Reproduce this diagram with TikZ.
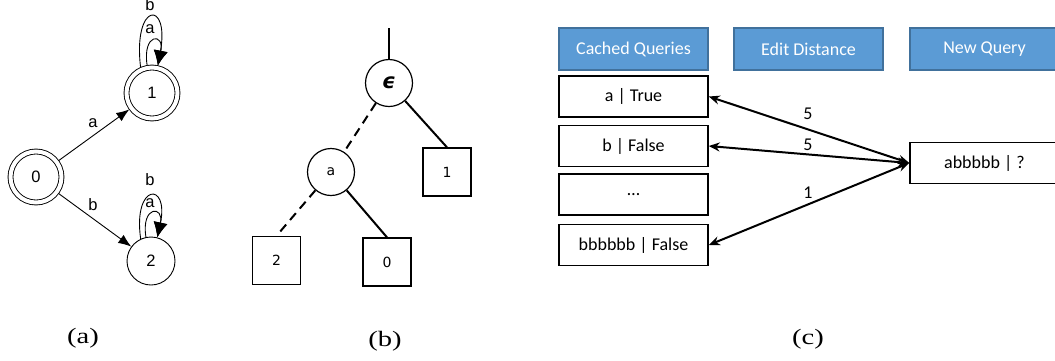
\documentclass[tikz,border=0pt]{standalone}
\usepackage{fontspec}
\usepackage{graphicx}
\setmainfont{Liberation Serif}
\newfontfamily\arialf{Liberation Sans}
\newfontfamily\verdf{DejaVu Sans}
\newfontfamily\calf{Carlito}
\usetikzlibrary{arrows.meta}
\definecolor{hdrfill}{HTML}{5B9BD5}
\definecolor{hdrdraw}{HTML}{41719C}
\begin{document}
\begin{tikzpicture}[x=1pt,y=-1pt,
  fa/.style={font=\arialf\fontsize{16.5}{19}\selectfont},
  stA/.style={circle, draw, line width=0.9pt, minimum size=48pt, inner sep=0pt, fa},
  accA/.style={stA, double, double distance=4pt, minimum size=51pt, outer sep=2.5pt},
  lblA/.style={fa, inner sep=0pt},
  edgeA/.style={line width=0.9pt, -{Latex[length=13pt,width=10pt]}},
  loopA/.style={line width=0.9pt, -{Latex[length=15pt,width=14pt]}},
  fb/.style={font=\verdf\fontsize{14}{16}\selectfont},
  tnode/.style={circle, draw, line width=1.2pt, minimum size=47pt, inner sep=0pt, fb},
  leaf/.style={rectangle, draw, line width=1.3pt, minimum size=48pt, inner sep=0pt, fb},
  solidB/.style={line width=2pt},
  dashB/.style={line width=2pt, dash pattern=on 9pt off 6pt},
  fc/.style={font=\calf\fontsize{18}{21}\selectfont},
  hdr/.style={rectangle, fill=hdrfill, draw=hdrdraw, line width=1.5pt, minimum width=149pt, minimum height=42pt, inner sep=0pt, text=white, fc},
  qbox/.style={rectangle, draw=black, line width=1.5pt, minimum width=149pt, minimum height=41pt, inner sep=0pt, fc},
  dbl/.style={line width=2pt, {Stealth[length=11pt,width=9pt]}-{Stealth[length=11pt,width=9pt]}},
  lblC/.style={fc, inner sep=0pt},
  captxt/.style={font=\fontsize{22}{26}\selectfont, inner sep=0pt}]
\useasboundingbox (0,0) rectangle (1055,360);
\clip (0,0) rectangle (1055,360);

% ---------- (a) ----------
\node[accA] (s0) at (36,177) {0};
\node[accA] (s1) at (152,93) {1};
\node[stA]  (s2) at (151,261) {2};
\draw[edgeA] (s0) -- (s1);
\draw[edgeA] (s0) -- (s2);
\node[lblA] (la01) at (93,123) {a};
\node[lblA] (lb02) at (93,205) {b};
\draw[loopA] (s1.114) .. controls +(-8,-66) and +(12,-66) .. (s1.78);
\draw[loopA] (s1.100) .. controls +(-5,-33) and +(7,-33) .. (s1.78);
\node[lblA] (lb11) at (150,5) {b};
\node[lblA] (la11) at (150,29) {a};
\draw[loopA] (s2.115) .. controls +(-8,-56) and +(12,-56) .. (s2.75);
\draw[loopA] (s2.102) .. controls +(-5,-32) and +(7,-32) .. (s2.75);
\node[lblA] (lb22) at (150,180) {b};
\node[lblA] (la22) at (150,203) {a};
\node[captxt] (capa) at (83,338) {\scalebox{1.3}[1]{(a)}};

% ---------- (b) ----------
\coordinate (root) at (389,28);
\node[tnode] (eps) at (389,83) {\fontsize{21}{23}\selectfont\bfseries\itshape ϵ};
\node[tnode] (na) at (331,172) {a};
\node[leaf] (l1) at (447,172) {1};
\node[leaf] (l2) at (276.5,260.5) {2};
\node[leaf] (l0) at (387,262) {0};
\draw[solidB] (root) -- (eps);
\draw[dashB] (eps) -- (na);
\draw[solidB] (eps) -- (l1.north);
\draw[dashB] (na) -- (l2.north);
\draw[solidB] (na) -- (l0.north);
\node[captxt] (capb) at (385,341) {\scalebox{1.3}[1]{(b)}};

% ---------- (c) ----------
\node[hdr] (h1) at (633.5,49) {Cached Queries};
\node[hdr] (h2) at (808.5,49) {Edit Distance};
\node[hdr] (h3) at (984.5,49) {New Query};
\node[qbox] (q1) at (633.5,96.5) {a | True};
\node[qbox] (q2) at (633.5,146) {b | False};
\node[qbox] (q3) at (633.5,194.5) {…};
\node[qbox] (q4) at (633.5,245) {bbbbbb | False};
\node[qbox] (nq) at (984.5,163) {abbbbb | ?};
\draw[dbl] (nq.west) -- (q1.east);
\draw[dbl] (nq.west) -- (q2.east);
\draw[dbl] (nq.west) -- (q4.east);
\node[lblC] (d1) at (808,114) {5};
\node[lblC] (d2) at (808,145) {5};
\node[lblC] (d4) at (808,193) {1};
\node[captxt] (capc) at (808,339) {\scalebox{1.3}[1]{(c)}};
\end{tikzpicture}
\end{document}
